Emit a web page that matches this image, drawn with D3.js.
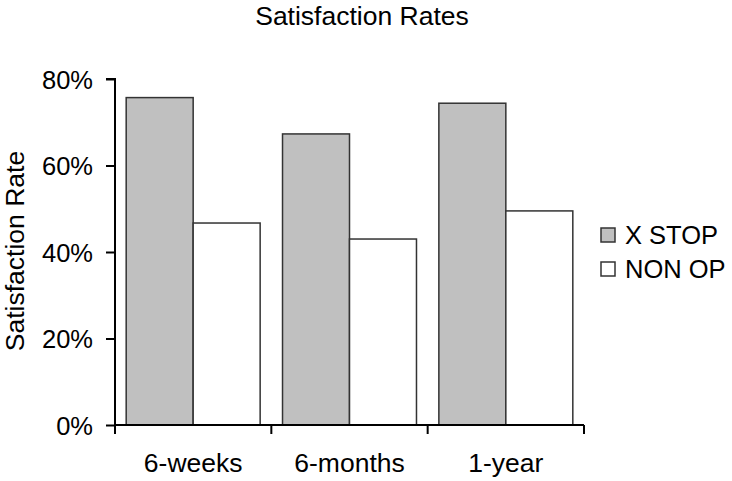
<!DOCTYPE html>
<html><head><meta charset="utf-8">
<script src="https://cdn.jsdelivr.net/npm/d3@7"></script>
<style>body{margin:0;background:#fff}svg{display:block;font-family:"Liberation Sans",Arial,sans-serif}</style>
</head><body><svg id="c" width="732" height="481"></svg>
<script>
const categories = ["6-weeks", "6-months", "1-year"];
const seriesNames = ["X STOP", "NON OP"];
const xStop = [0.757, 0.673, 0.744];
const nonOp = [0.467, 0.430, 0.495];
const yTicks = [0, 0.2, 0.4, 0.6, 0.8];
const colors = ["#c0c0c0", "#ffffff"];

const FS = 25.5, FL = 26.5;
const svg = d3.select("#c");
const m = {left:115, right:584, top:79, bottom:425};
const x = d3.scaleBand().domain(categories).range([m.left, m.right]).paddingInner(0).paddingOuter(0);
const x1 = d3.scaleBand().domain(seriesNames).range([0, x.bandwidth()]).paddingInner(0).paddingOuter(0.167);
const y = d3.scaleLinear().domain([0, 0.8]).range([m.bottom, m.top]);

const data = categories.map((c,i)=>({c, vals:[xStop[i], nonOp[i]]}));
const g = svg.append("g");
data.forEach(d=>{
  d.vals.forEach((v,j)=>{
    g.append("rect")
      .attr("x", x(d.c)+x1(seriesNames[j]))
      .attr("y", y(v))
      .attr("width", x1.bandwidth())
      .attr("height", y(0)-y(v))
      .attr("fill", colors[j]).attr("stroke","#333").attr("stroke-width",1.5);
  });
});

// y axis
const ya = svg.append("g").attr("transform",`translate(${m.left},0)`)
  .call(d3.axisLeft(y).tickValues(yTicks).tickFormat(d3.format(".0%")).tickSize(9).tickPadding(13));
ya.attr("font-size",null).attr("font-family",null);
ya.selectAll("text").attr("font-size",FS).attr("fill","#000").attr("dy","0.36em");
ya.select(".domain").attr("d",`M-9,${m.top}H0V${m.bottom}`).attr("stroke","#000").attr("stroke-width",2);
ya.selectAll(".tick line").attr("stroke","#000").attr("stroke-width",2);

// x axis
const xa = svg.append("g").attr("transform",`translate(0,${m.bottom})`);
xa.append("line").attr("x1",m.left).attr("x2",m.right).attr("stroke","#000").attr("stroke-width",2);
const bounds = categories.map(c=>x(c)).concat([x(categories[categories.length-1])+x.bandwidth()]);
xa.selectAll("line.tk").data(bounds).join("line").attr("class","tk")
  .attr("x1",d=>d).attr("x2",d=>d).attr("y1",0).attr("y2",9).attr("stroke","#000").attr("stroke-width",2);
xa.selectAll("text").data(categories).join("text")
  .attr("x",d=>x(d)+x.bandwidth()/2).attr("y",47).attr("text-anchor","middle")
  .attr("font-size",FL).attr("fill","#000").text(d=>d);

// title
svg.append("text").attr("x",362).attr("y",25).attr("text-anchor","middle").attr("font-size",FL).text("Satisfaction Rates");
// y label
svg.append("text").attr("transform",`translate(24,251) rotate(-90)`).attr("text-anchor","middle")
  .attr("font-size",FL).text("Satisfaction Rate");

// legend
const lg = svg.append("g").attr("transform","translate(601,228)");
seriesNames.forEach((s,i)=>{
  lg.append("rect").attr("x",0).attr("y",i*34).attr("width",14).attr("height",14)
    .attr("fill",colors[i]).attr("stroke","#333").attr("stroke-width",1.5);
  lg.append("text").attr("x",24).attr("y",i*34+15.5).attr("font-size",FS).text(s);
});
</script></body></html>
